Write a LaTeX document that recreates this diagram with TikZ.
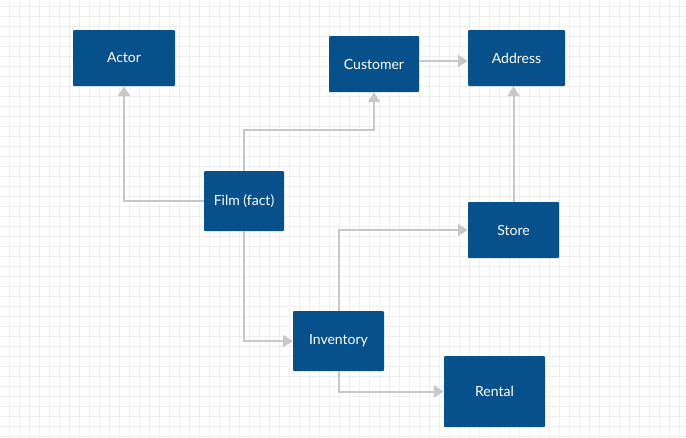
\documentclass[tikz,border=0pt]{standalone}
\usepackage{fontspec}
\setmainfont{Lato}
\usetikzlibrary{arrows.meta}
\definecolor{bleu}{RGB}{6,80,140}
\definecolor{gris}{RGB}{200,200,200}
\definecolor{grille}{RGB}{240,240,240}

\begin{document}
\begin{tikzpicture}[x=1pt, y=-1pt]
	\tikzset{boite/.style={rectangle, fill=bleu, text=white, rounded corners=1pt, inner sep=0pt, font=\fontsize{14}{16}\selectfont}, lien/.style={draw=gris, line width=2pt, -{Triangle[length=10pt, width=12pt]}}};

	\useasboundingbox (0,0) rectangle (686,437);
	\fill[white] (0,0) rectangle (686,437);
	\foreach \x in {9.5,19.5,...,686} \draw[grille, line width=0.8pt] (\x,0) -- (\x,437);
	\foreach \y in {6,16,...,437} \draw[grille, line width=0.8pt] (0,\y) -- (686,\y);

	\node[boite, minimum width=102pt, minimum height=56pt] (actor)     at (  124,    58) {Actor};
	\node[boite, minimum width= 90pt, minimum height=56pt] (customer)  at (  374,    64) {Customer};
	\node[boite, minimum width= 97pt, minimum height=56pt] (address)   at (516.5,    58) {Address};
	\node[boite, minimum width= 80pt, minimum height=60pt] (film)      at (  244,   201) {Film (fact)};
	\node[boite, minimum width= 91pt, minimum height=56pt] (store)     at (513.5,   230) {Store};
	\node[boite, minimum width= 91pt, minimum height=60pt] (inventory) at (338.5,   341) {Inventory};
	\node[boite, minimum width=101pt, minimum height=71pt] (rental)    at (494.5, 391.5) {Rental};

	\coordinate (cust) at ([yshift=3pt]customer.east);

	\draw[lien] (film.west) -| (actor.south);
	\draw[lien] (film.north) -- ++(0,-41) -| (customer.south);
	\draw[lien] (cust) -- (cust -| address.west);
	\draw[lien] (store.north) -- (store.north |- address.south);
	\draw[lien] (inventory.north) |- (store.west);
	\draw[lien] (film.south) |- (inventory.west);
	\draw[lien] (inventory.south) |- (rental.west);

\end{tikzpicture}
\end{document}
